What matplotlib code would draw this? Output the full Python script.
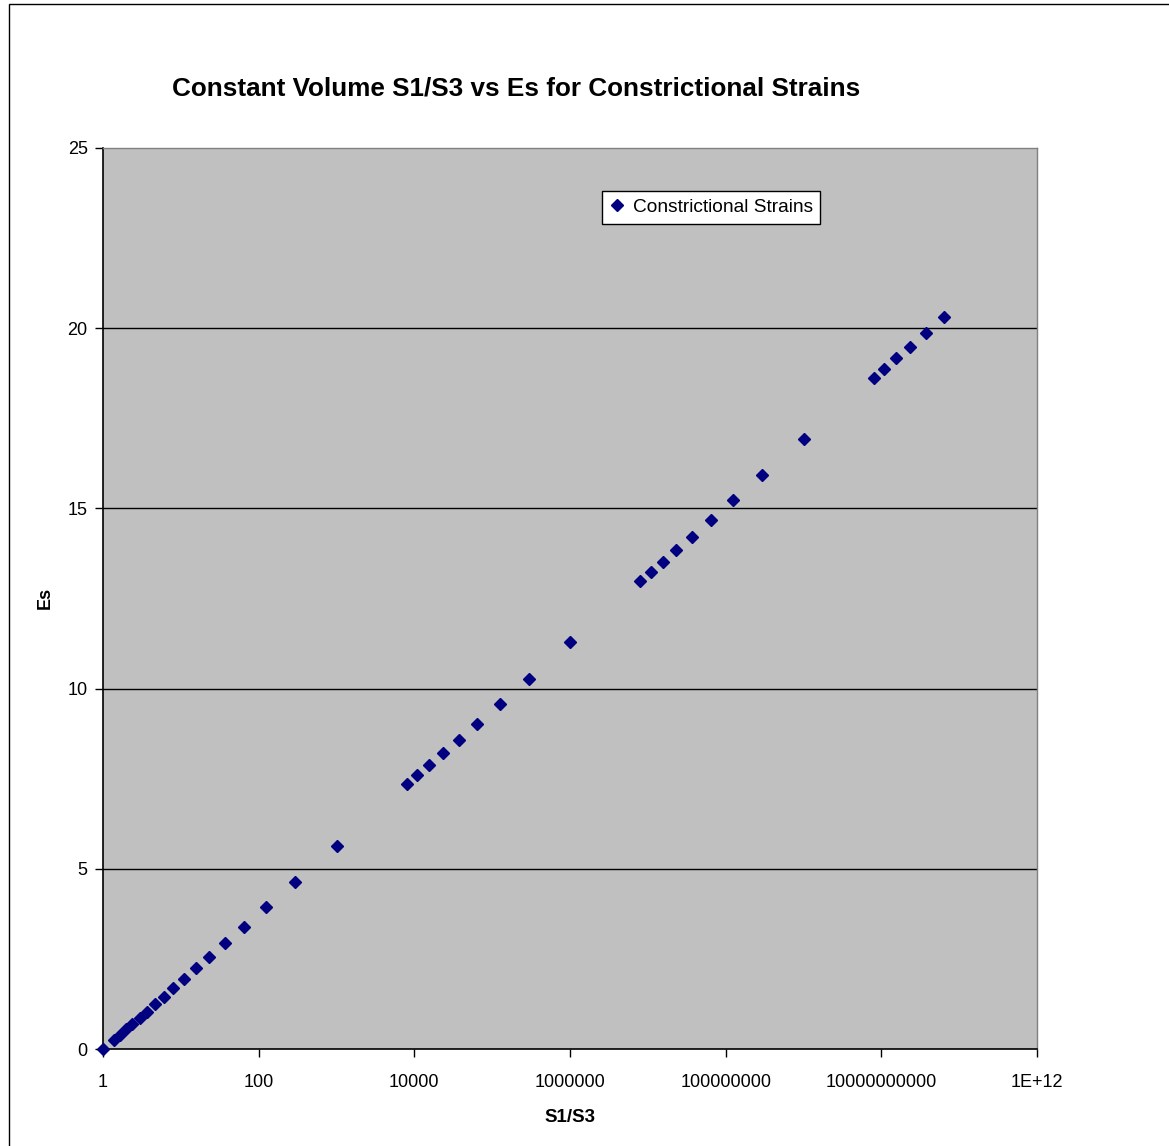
import matplotlib
matplotlib.use("Agg")
import matplotlib.pyplot as plt
from matplotlib.patches import Rectangle
from matplotlib.ticker import FixedLocator, FixedFormatter, NullLocator

plt.rcParams['font.family'] = ['Liberation Sans', 'DejaVu Sans']

# S1/S3 ratio and natural octahedral strain Es
s1_s3 = [1, 1.37, 1.63, 1.95, 2.37, 2.95, 3.66, 4.65, 6.05, 8.0, 10.97, 15.6,
         23.3, 37.0, 64.0, 125, 296, 1000,
         8000, 10970, 15620, 23320, 37040, 64000, 125000, 296300, 1000000,
         8.0e6, 1.097e7, 1.562e7, 2.332e7, 3.704e7, 6.4e7, 1.25e8, 2.963e8, 1.0e9,
         8.0e9, 1.097e10, 1.562e10, 2.332e10, 3.704e10, 6.4e10]
es = [0.0, 0.26, 0.40, 0.55, 0.70, 0.87, 1.04, 1.24, 1.45, 1.69, 1.95, 2.24,
      2.56, 2.94, 3.39, 3.94, 4.64, 5.64,
      7.34, 7.59, 7.87, 8.20, 8.57, 9.02, 9.58, 10.26, 11.28,
      12.98, 13.23, 13.52, 13.84, 14.22, 14.67, 15.22, 15.92, 16.92,
      18.61, 18.87, 19.16, 19.49, 19.86, 20.32]

x_ticks = [1e0, 1e2, 1e4, 1e6, 1e8, 1e10, 1e12]
x_tick_labels = ["1", "100", "10000", "1000000", "100000000", "10000000000", "1E+12"]
y_ticks = [0, 5, 10, 15, 20, 25]

W, H = 1169, 1146
fig = plt.figure(figsize=(W / 100, H / 100), dpi=100)
fig.patch.set_facecolor("white")

# outer chart frame
fig.patches.append(Rectangle((9 / W, -0.05), 1.2, 1 - 4 / H + 0.05,
                             transform=fig.transFigure, fill=False,
                             edgecolor="black", linewidth=1.0))

left, right, top, bottom = 103, 1037, 148, 1049
ax = fig.add_axes([left / W, 1 - bottom / H, (right - left) / W, (bottom - top) / H])
ax.set_facecolor("#C0C0C0")
ax.set_xscale("log")
ax.set_xlim(1, 1e12)
ax.set_ylim(0, 25)

ax.xaxis.set_major_locator(FixedLocator(x_ticks))
ax.xaxis.set_major_formatter(FixedFormatter(x_tick_labels))
ax.xaxis.set_minor_locator(NullLocator())
ax.set_yticks(y_ticks)
ax.set_yticklabels([str(v) for v in y_ticks])

for yv in y_ticks[1:-1]:
    ax.axhline(yv, color="black", linewidth=1.0, zorder=1)

for side in ("top", "right"):
    ax.spines[side].set_color("#808080")
    ax.spines[side].set_linewidth(1.0)
for side in ("left", "bottom"):
    ax.spines[side].set_color("black")
    ax.spines[side].set_linewidth(1.2)

ax.tick_params(axis="both", direction="out", length=6, width=1.0,
               colors="black", labelsize=13)
ax.tick_params(axis="x", pad=12)
ax.tick_params(axis="y", pad=5)

ax.plot(s1_s3, es, linestyle="none", marker="D", markersize=6.2,
        color="#000080", clip_on=False, zorder=3, label="Constrictional Strains")

leg = ax.legend(loc="upper left", bbox_to_anchor=((602 - left) / (right - left),
                                                 1 - (191 - top) / (bottom - top)),
                frameon=True, fancybox=False, framealpha=1.0, edgecolor="black",
                fontsize=13.8, handlelength=0.8, handletextpad=0.4,
                borderpad=0.4, borderaxespad=0.0)
leg.get_frame().set_linewidth(1.0)

fig.text(516 / W, 1 - 88 / H, "Constant Volume S1/S3 vs Es for Constrictional Strains",
         ha="center", va="center", fontsize=18.8, fontweight="bold")
fig.text(570 / W, 1 - 1117 / H, "S1/S3", ha="center", va="center",
         fontsize=13.5, fontweight="bold")
fig.text(45 / W, 1 - 598 / H, "Es", ha="center", va="center", rotation=90,
         fontsize=13, fontweight="bold")

fig.savefig("out.png", dpi=100)
